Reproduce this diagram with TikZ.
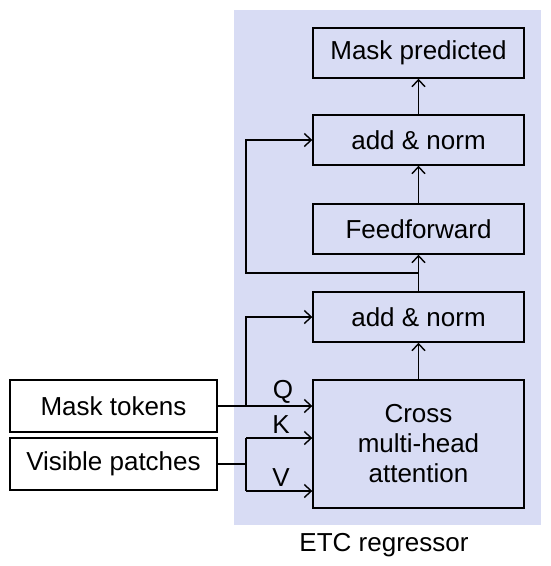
\documentclass[tikz,border=0pt]{standalone}
\usepackage{fontspec}
\setmainfont{Liberation Sans}
\usetikzlibrary{arrows.meta}
\definecolor{panel}{HTML}{D8DCF4}
\begin{document}
\begin{tikzpicture}[x=1pt,y=-1pt,
  box/.style={draw=black,line width=1.4pt,fill=white,inner sep=0pt,font=\fontsize{26}{30}\selectfont,align=center},
  panelbox/.style={box,fill=panel},
  conn/.style={line width=1.4pt,-{Straight Barb[length=7pt,width=13pt,line width=1.4pt]}},
  plain/.style={line width=1.4pt},
  lbl/.style={font=\fontsize{26}{30}\selectfont,inner sep=0pt}]
\useasboundingbox (0,0) rectangle (550,566);
\fill[panel] (234,10) rectangle (541,525);
\node[panelbox,minimum width=211pt,minimum height=50pt] (mp) at (418.5,53) {Mask predicted};
\node[panelbox,minimum width=211pt,minimum height=50pt] (an2) at (418.5,140) {add \& norm};
\node[panelbox,minimum width=211pt,minimum height=50pt] (ff) at (418.5,229) {Feedforward};
\node[panelbox,minimum width=211pt,minimum height=50pt] (an1) at (418.5,317) {add \& norm};
\node[panelbox,minimum width=211pt,minimum height=128pt] (att) at (418.5,444) {Cross\\multi-head\\attention};
\node[box,minimum width=207pt,minimum height=52pt] (mt) at (113.5,406) {Mask tokens};
\node[box,minimum width=207pt,minimum height=52pt] (vp) at (113.5,464) {Visible patches};
\node[lbl] (ql) at (283,392) {Q};
\node[lbl] (kl) at (281,425) {K};
\node[lbl] (vl) at (281,478) {V};
\node[lbl] (etc) at (384,545) {ETC regressor};
\coordinate (qb) at (246,406);
\coordinate (vb) at (246,464);
\coordinate (kc) at (246,438);
\coordinate (vc) at (246,491);
\coordinate (fb) at (418.5,273);
% Q
\draw[conn] (mt.east) -- (att.west |- mt.east);
\draw[conn] (qb) |- (an1.west);
% K and V
\draw[plain] (vp.east) -- (vb);
\draw[plain] (kc) -- (vc);
\draw[conn] (kc) -- (att.west |- kc);
\draw[conn] (vc) -- (att.west |- vc);
% vertical chain
\draw[conn] (att.north) -- (an1.south);
\draw[conn] (an1.north) -- (ff.south);
\draw[conn] (ff.north) -- (an2.south);
\draw[conn] (an2.north) -- (mp.south);
\draw[conn] (fb) -| (246,140) -- (an2.west);
\end{tikzpicture}
\end{document}
